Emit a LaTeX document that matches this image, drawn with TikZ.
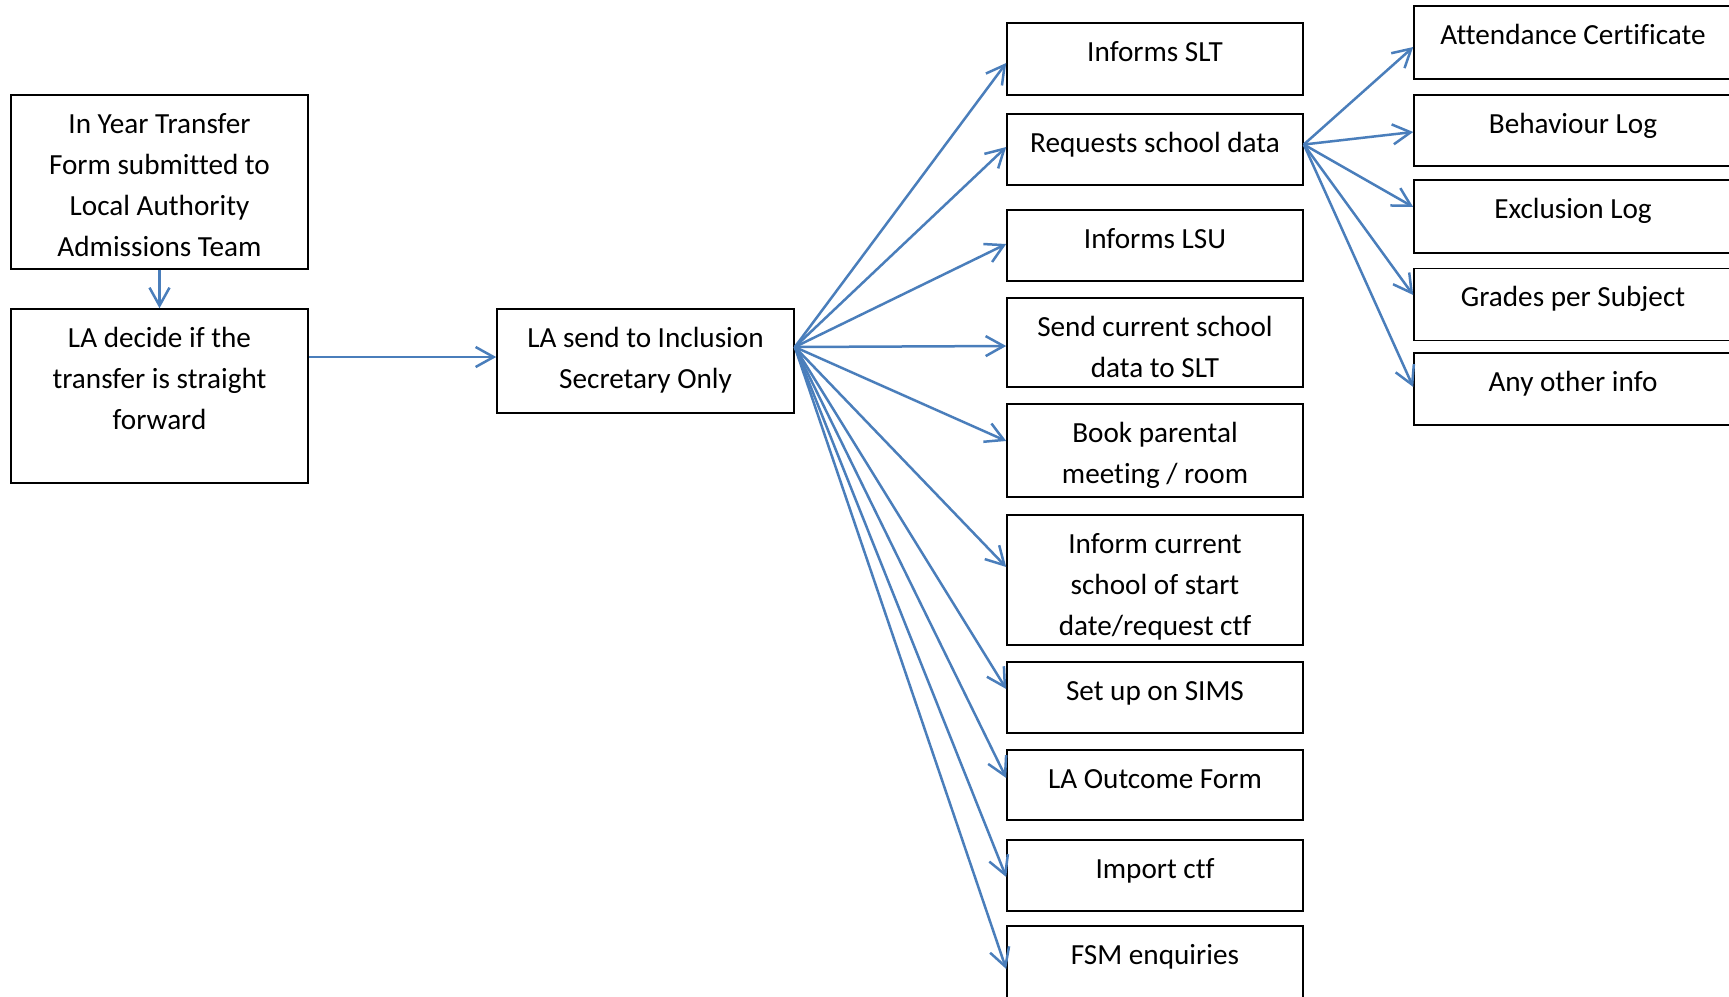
\documentclass[tikz,border=0pt]{standalone}
\usepackage{fontspec}
\setmainfont{Carlito}[Ligatures=NoCommon]
\usetikzlibrary{arrows.meta}
\definecolor{arrowblue}{RGB}{74,126,187}
% text in a box starts at the top, as in the original
\newcommand{\boxtxt}[3]{\parbox[c][#1][t]{#2}{\centering\rule{0pt}{19.2pt}#3\par}}

\begin{document}
\begin{tikzpicture}[x=0.5pt,y=-0.5pt,
	box/.style={draw,line width=0.8pt,inner sep=0pt,
		font=\fontsize{14.6pt}{20.5pt}\selectfont},
	flow/.style={draw=arrowblue,line width=1.25pt,->},
	>={Straight Barb[length=9pt,width=10pt]}]
			\useasboundingbox (0,0) rectangle (1729,996);

			\node[box] (form) at (159.5,182) {\boxtxt{87pt}{148.5pt}{In Year Transfer\\Form submitted to\\Local Authority\\Admissions Team}};
			\node[box] (decide) at (159.5,396) {\boxtxt{87pt}{148.5pt}{LA decide if the\\transfer is straight\\forward}};
			\node[box] (send) at (645.5,361) {\boxtxt{52pt}{148.5pt}{LA send to Inclusion\\Secretary Only}};

			\node[box] (slt) at (1155,59) {\boxtxt{36pt}{148pt}{Informs SLT}};
			\node[box] (req) at (1155,149.5) {\boxtxt{35.5pt}{148pt}{Requests school data}};
			\node[box] (lsu) at (1155,245.5) {\boxtxt{35.5pt}{148pt}{Informs LSU}};
			\node[box] (cur) at (1155,342.5) {\boxtxt{44.5pt}{148pt}{Send current school\\data to SLT}};
			\node[box] (book) at (1155,450.5) {\boxtxt{46.5pt}{148pt}{Book parental\\meeting / room}};
			\node[box] (inform) at (1155,580) {\boxtxt{65pt}{148pt}{Inform current\\school of start\\date/request ctf}};
			\node[box] (sims) at (1155,697.5) {\boxtxt{35.5pt}{148pt}{Set up on SIMS}};
			\node[box] (outcome) at (1155,785) {\boxtxt{35pt}{148pt}{LA Outcome Form}};
			\node[box] (import) at (1155,875.5) {\boxtxt{35.5pt}{148pt}{Import ctf}};
			\node[box] (fsm) at (1155,963) {\boxtxt{37pt}{148pt}{FSM enquiries}};

			\node[box] (att) at (1573,42.5) {\boxtxt{36.5pt}{159pt}{Attendance Certificate}};
			\node[box] (beh) at (1573,130.5) {\boxtxt{35.5pt}{159pt}{Behaviour Log}};
			\node[box] (exc) at (1573,216.5) {\boxtxt{36.5pt}{159pt}{Exclusion Log}};
			\node[box] (grd) at (1573,304.5) {\boxtxt{36pt}{159pt}{Grades per Subject}};
			\node[box] (oth) at (1573,389) {\boxtxt{36pt}{159pt}{Any other info}};

			\coordinate (sendin) at ([yshift=2pt]send.west);
			\coordinate (fan) at ([yshift=7pt]send.east);
			\coordinate (reqout) at ([yshift=2.5pt]req.east);

			\draw[flow] (form) -- (decide);
			\draw[flow] (decide.east |- sendin) -- (sendin);

			\foreach \n/\s in {slt/-2,req/1.25,lsu/0.75,cur/-1.75,book/4.75,inform/6.5,sims/4.25,outcome/3.5,import/-0.75,fsm/-3}
			\draw[flow] (fan) -- ([yshift=\s pt]\n.west);

			\foreach \n/\s in {att/-2.25,beh/-0.75,exc/4.75,grd/4.75,oth/1}
			\draw[flow] (reqout) -- ([yshift=\s pt]\n.west);
		\end{tikzpicture}
\end{document}
